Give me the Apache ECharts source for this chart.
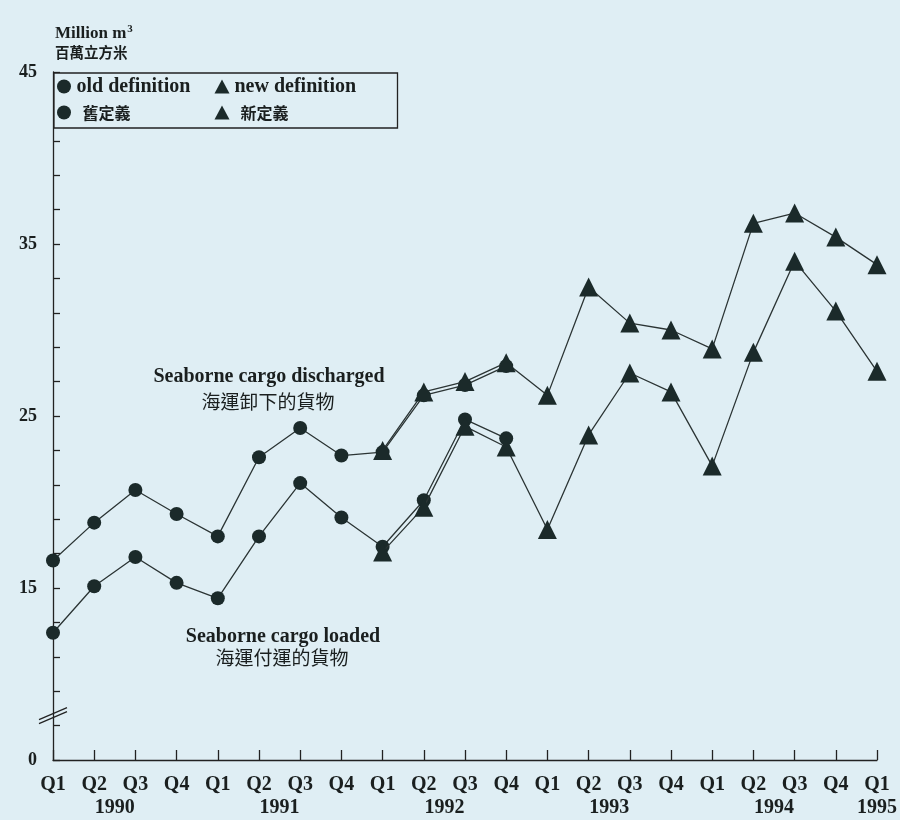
<!DOCTYPE html>
<html>
<head>
<meta charset="utf-8">
<script src="https://cdn.jsdelivr.net/npm/echarts@6/dist/echarts.min.js"></script>
<style>
  html, body { margin: 0; padding: 0; background: #dfeef4; }
  #chart { width: 900px; height: 820px; }
</style>
</head>
<body>
<div id="chart"></div>
<script>
// ---- data ----
const quarters = ['Q1','Q2','Q3','Q4','Q1','Q2','Q3','Q4','Q1','Q2','Q3','Q4','Q1','Q2','Q3','Q4','Q1','Q2','Q3','Q4','Q1'];
const yearLabels = ['1990','1991','1992','1993','1994','1995'];
const yearPositions = [1.5, 5.5, 9.5, 13.5, 17.5, 20];
const yTickLabels = [15, 25, 35, 45];

const dischargedOld = [16.6, 18.8, 20.7, 19.3, 18.0, 22.6, 24.3, 22.7, 22.9, 26.2, 26.8, 27.9];
const dischargedNew = [null, null, null, null, null, null, null, null, 23.0, 26.4, 27.0, 28.1, 26.2, 32.5, 30.4, 30.0, 28.9, 36.2, 36.8, 35.4, 33.8];
const loadedOld = [12.4, 15.1, 16.8, 15.3, 14.4, 18.0, 21.1, 19.1, 17.4, 20.1, 24.8, 23.7];
const loadedNew = [null, null, null, null, null, null, null, null, 17.1, 19.7, 24.4, 23.2, 18.4, 23.9, 27.5, 26.4, 22.1, 28.7, 34.0, 31.1, 27.6];

// ---- style ----
const BG = '#dfeef4';
const INK = '#1a1f1f';
const MARK = '#1b2a2a';
const LINE = '#2b3434';
const SERIF = '"Liberation Serif", "Times New Roman", "Noto Sans CJK TC", serif';
const CJK = '"Noto Sans CJK TC", sans-serif';

function lineSeries(name, data, symbol, size, z) {
  return {
    name: name, type: 'line', data: data, symbol: symbol, symbolSize: size,
    showSymbol: true, connectNulls: false, z: z,
    lineStyle: { color: LINE, width: 1.3 },
    itemStyle: { color: MARK },
    emphasis: { disabled: true }
  };
}

const chart = echarts.init(document.getElementById('chart'), null, { renderer: 'canvas' });

const option = {
  backgroundColor: BG,
  animation: false,
  title: {
    left: 50, top: 19,
    text: '{a|Million m}{s|3}\n{b|百萬立方米}',
    textStyle: {
      rich: {
        a: { fontFamily: SERIF, fontWeight: 'bold', fontSize: 17, color: INK, lineHeight: 19 },
        s: { fontFamily: SERIF, fontWeight: 'bold', fontSize: 11, color: INK, lineHeight: 19, verticalAlign: 'top', padding: [0, 0, 6, 1] },
        b: { fontFamily: CJK, fontSize: 14.5, color: INK, lineHeight: 19 }
      }
    }
  },
  legend: {
    left: 54, top: 73,
    orient: 'horizontal',
    width: 320,
    padding: [3, 30, 5, 3],
    itemGap: 5,
    itemWidth: 15, itemHeight: 14,
    backgroundColor: BG,
    borderColor: '#222',
    borderWidth: 1.3,
    selectedMode: false,
    z: 10,
    textStyle: {
      fontFamily: SERIF, fontWeight: 'bold', fontSize: 20, color: INK, width: 133, lineHeight: 21,
      rich: {
        c: { fontFamily: CJK, fontWeight: 'bold', fontSize: 16, color: INK, lineHeight: 21, padding: [0, 0, 0, 6] }
      }
    },
    formatter: function (n) { return (n === '舊定義' || n === '新定義') ? '{c|' + n + '}' : n; },
    data: [
      { name: 'old definition', icon: 'circle' },
      { name: 'new definition', icon: 'triangle' },
      { name: '舊定義', icon: 'circle' },
      { name: '新定義', icon: 'triangle' }
    ]
  },
  grid: { left: 53, right: 23, top: 72, bottom: 60 },
  xAxis: [
    {
      type: 'category', data: quarters, boundaryGap: false,
      axisLine: { lineStyle: { color: '#222', width: 1.3 } },
      axisTick: { show: true, inside: true, length: 10, lineStyle: { color: '#222', width: 1.3 } },
      axisLabel: { fontFamily: SERIF, fontWeight: 'bold', fontSize: 20, color: INK, margin: 15, interval: 0 },
      splitLine: { show: false }
    },
    {
      type: 'value', min: 0, max: 20, interval: 0.5, position: 'bottom', offset: 23,
      axisLine: { show: false }, axisTick: { show: false }, splitLine: { show: false },
      axisLabel: {
        fontFamily: SERIF, fontWeight: 'bold', fontSize: 20, color: INK, margin: 15,
        showMinLabel: true, showMaxLabel: true,
        formatter: function (v) {
          for (let i = 0; i < yearPositions.length; i++) {
            if (Math.abs(v - yearPositions[i]) < 1e-6) return yearLabels[i];
          }
          return '';
        }
      }
    }
  ],
  yAxis: {
    type: 'value', min: 5, max: 45, interval: 2,
    axisLine: { show: true, lineStyle: { color: '#222', width: 1.3 } },
    axisTick: { show: true, inside: true, length: 7, lineStyle: { color: '#222', width: 1.3 } },
    axisLabel: {
      fontFamily: SERIF, fontWeight: 'bold', fontSize: 18, color: INK, margin: 16,
      showMinLabel: true, showMaxLabel: true,
      formatter: function (v) {
        if (Math.abs(v - 5) < 1e-6) return '0';
        for (let i = 0; i < yTickLabels.length; i++) {
          if (Math.abs(v - yTickLabels[i]) < 1e-6) return String(yTickLabels[i]);
        }
        return '';
      }
    },
    splitLine: { show: false }
  },
  graphic: [
    { id: 'dTxtEn', type: 'text', x: 269, y: 377, z: 20,
      style: { text: 'Seaborne cargo discharged', font: 'bold 20px "Liberation Serif", serif', fill: INK, textAlign: 'center', textVerticalAlign: 'middle' } },
    { id: 'dTxtZh', type: 'text', x: 268, y: 402, z: 20,
      style: { text: '海運卸下的貨物', font: '19px "Noto Sans CJK TC", sans-serif', fill: INK, textAlign: 'center', textVerticalAlign: 'middle' } },
    { id: 'lTxtEn', type: 'text', x: 283, y: 637, z: 20,
      style: { text: 'Seaborne cargo loaded', font: 'bold 20px "Liberation Serif", serif', fill: INK, textAlign: 'center', textVerticalAlign: 'middle' } },
    { id: 'lTxtZh', type: 'text', x: 282, y: 658, z: 20,
      style: { text: '海運付運的貨物', font: '19px "Noto Sans CJK TC", sans-serif', fill: INK, textAlign: 'center', textVerticalAlign: 'middle' } }
  ],
  series: [
    lineSeries('old definition', dischargedOld, 'circle', 14, 3),
    lineSeries('old definition', loadedOld, 'circle', 14, 3),
    lineSeries('new definition', dischargedNew, 'triangle', 19, 4),
    lineSeries('new definition', loadedNew, 'triangle', 19, 4),
    lineSeries('舊定義', [], 'circle', 14, 1),
    lineSeries('新定義', [], 'triangle', 19, 1)
  ]
};

chart.setOption(option);

// axis-break marker on the y axis (between 7 and 9)
const ax = chart.convertToPixel({ xAxisIndex: 0 }, 0);
const by = chart.convertToPixel({ yAxisIndex: 0 }, 7.7);
chart.setOption({
  graphic: [
    { id: 'brk1', type: 'line', z: 20, shape: { x1: ax - 14, y1: by + 6, x2: ax + 14, y2: by - 6 }, style: { stroke: '#222', lineWidth: 1.3 } },
    { id: 'brk2', type: 'line', z: 20, shape: { x1: ax - 14, y1: by + 10, x2: ax + 14, y2: by - 2 }, style: { stroke: '#222', lineWidth: 1.3 } }
  ]
});
</script>
</body>
</html>
